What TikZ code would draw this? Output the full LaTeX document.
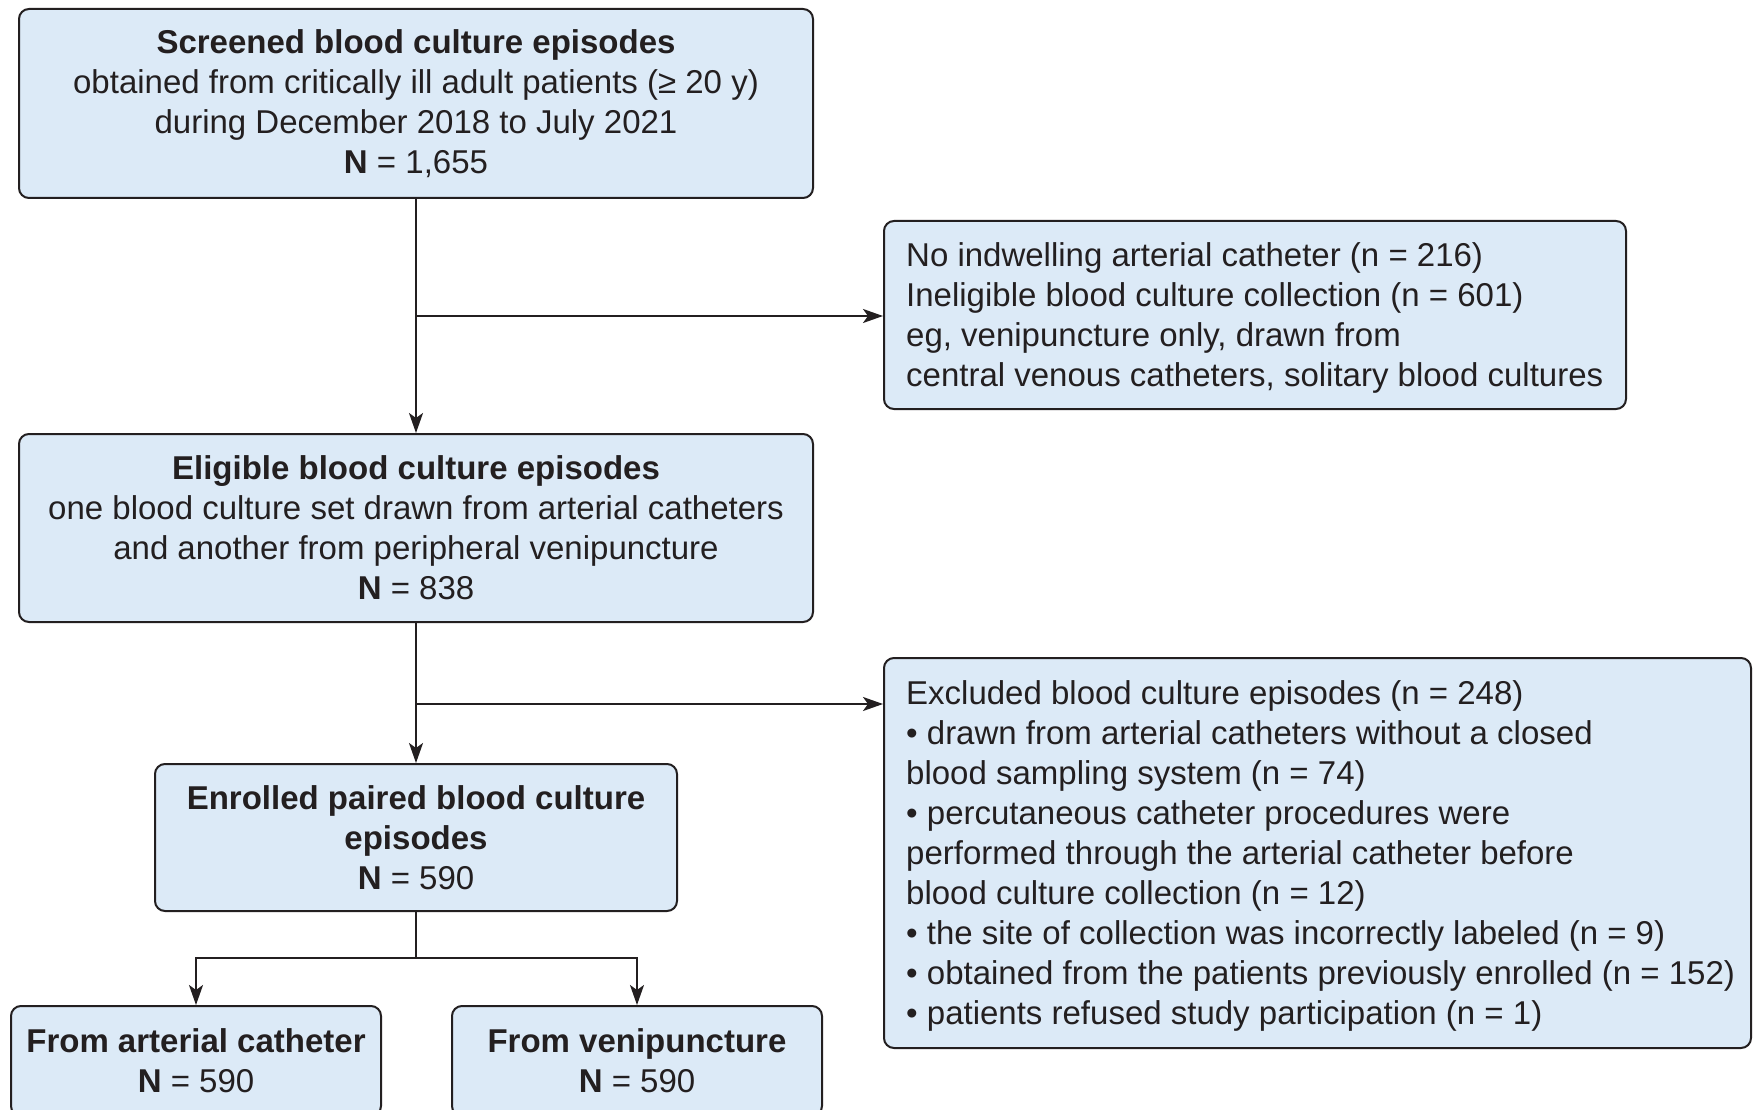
\documentclass[tikz,border=0pt]{standalone}
\usepackage{fontspec}
\setmainfont{Liberation Sans}
\usetikzlibrary{arrows.meta}
\definecolor{boxfill}{RGB}{220,234,247}
\definecolor{linec}{RGB}{35,31,32}
\begin{document}
\begin{tikzpicture}[x=1pt,y=-1pt,
  box/.style={draw=linec, line width=2pt, fill=boxfill, rounded corners=10pt, inner sep=0pt, align=center, font=\fontsize{33}{40}\selectfont, text=linec},
  txt/.style={inner sep=0pt, align=left, anchor=west, font=\fontsize{33}{40}\selectfont, text=linec},
  arr/.style={draw=linec, line width=2pt, -{Stealth[length=20pt,width=14pt,inset=5pt]}},
  ln/.style={draw=linec, line width=2pt}]
\clip (0,0) rectangle (1753,1110);
\fill[white] (0,0) rectangle (1753,1110);

\node[box, minimum width=794pt, minimum height=189pt] (b1) at (416,103.5)
  {\textbf{Screened blood culture episodes}\\
   obtained from critically ill adult patients (≥ 20 y)\\
   during December 2018 to July 2021\\
   \textbf{N} = 1,655};

\node[box, minimum width=742pt, minimum height=188pt] (b2) at (1255,315) {};
\node[txt] (t2) at (906,318)
  {No indwelling arterial catheter (n = 216)\\
   Ineligible blood culture collection (n = 601)\\
   eg, venipuncture only, drawn from\\
   central venous catheters, solitary blood cultures};

\node[box, minimum width=794pt, minimum height=188pt] (b3) at (416,528)
  {\textbf{Eligible blood culture episodes}\\
   one blood culture set drawn from arterial catheters\\
   and another from peripheral venipuncture\\
   \textbf{N} = 838};

\node[box, minimum width=867pt, minimum height=390pt] (b4) at (1317.5,853) {};
\node[txt] (t4) at (906,855.5)
  {Excluded blood culture episodes (n = 248)\\
   • drawn from arterial catheters without a closed\\
   blood sampling system (n = 74)\\
   • percutaneous catheter procedures were\\
   performed through the arterial catheter before\\
   blood culture collection (n = 12)\\
   • the site of collection was incorrectly labeled (n = 9)\\
   • obtained from the patients previously enrolled (n = 152)\\
   • patients refused study participation (n = 1)};

\node[box, minimum width=522pt, minimum height=147pt] (b5) at (416,837.5)
  {\textbf{Enrolled paired blood culture}\\
   \textbf{episodes}\\
   \textbf{N} = 590};

\node[box, minimum width=370pt, minimum height=110pt] (b6) at (196,1061)
  {\textbf{From arterial catheter}\\
   \textbf{N} = 590};

\node[box, minimum width=370pt, minimum height=110pt] (b7) at (637,1061)
  {\textbf{From venipuncture}\\
   \textbf{N} = 590};

\coordinate (j1) at (416,316);
\coordinate (j2) at (416,704);
\coordinate (j3) at (416,958);

\draw[arr] (b1.south) -- (b3.north);
\draw[arr] (j1) -- (j1 -| b2.west);
\draw[arr] (b3.south) -- (b5.north);
\draw[arr] (j2) -- (j2 -| b4.west);
\draw[ln] (b5.south) -- (j3);
\draw[arr] (j3) -| (b6.north);
\draw[arr] (j3) -| (b7.north);
\end{tikzpicture}
\end{document}
